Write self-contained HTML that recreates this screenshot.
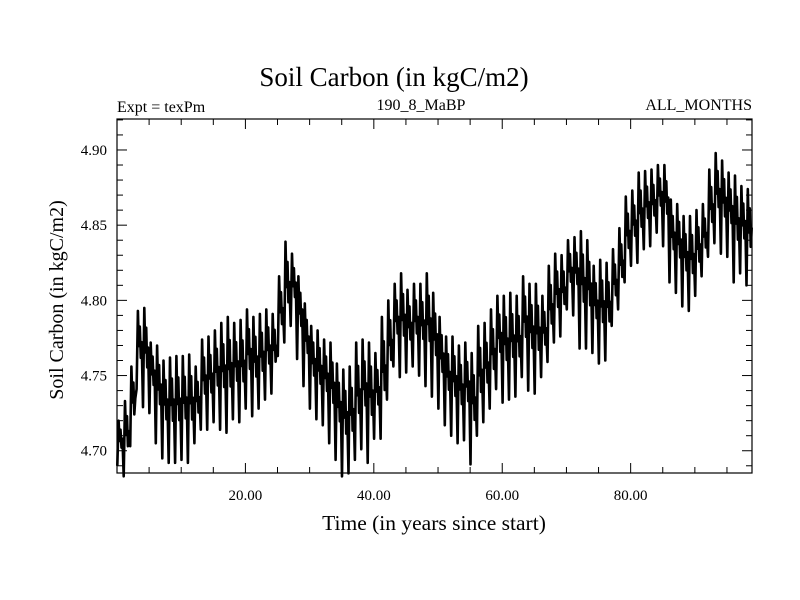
<!DOCTYPE html>
<html><head><meta charset="utf-8"><style>
body{margin:0;background:#fff}
svg{display:block;font-family:"Liberation Serif",serif}
</style></head><body>
<svg id="chart" width="800" height="600" viewBox="0 0 800 600">
<rect width="800" height="600" fill="#fff"/>
<text x="394" y="86" font-size="27" text-anchor="middle">Soil Carbon (in kgC/m2)</text>
<text x="117" y="112" font-size="16">Expt = texPm</text>
<text x="421" y="110" font-size="16" text-anchor="middle">190_8_MaBP</text>
<text x="752" y="110" font-size="16" text-anchor="end">ALL_MONTHS</text>
<text x="0" y="0" font-size="20" text-anchor="middle" transform="translate(63,300) rotate(-90)">Soil Carbon (in kgC/m2)</text>
<text x="434" y="530" font-size="21.5" text-anchor="middle">Time (in years since start)</text>
<g id="axes"></g>
<g id="series"></g>
<rect x="117" y="119" width="635" height="354" fill="none" stroke="#000" stroke-width="1.2"/>
</svg>
<script>
const xTicks=[20,40,60,80];
const xTickLabels=["20.00","40.00","60.00","80.00"];
const yTicks=[4.70,4.75,4.80,4.85,4.90];
const yTickLabels=["4.70","4.75","4.80","4.85","4.90"];
const yearHigh=[4.720,4.733,4.756,4.793,4.795,4.772,4.770,4.760,4.762,4.763,4.763,4.764,4.756,4.774,4.776,4.780,4.785,4.789,4.785,4.787,4.794,4.789,4.791,4.794,4.791,4.816,4.839,4.831,4.816,4.798,4.783,4.780,4.774,4.772,4.758,4.754,4.756,4.772,4.774,4.772,4.765,4.789,4.800,4.811,4.818,4.807,4.811,4.811,4.818,4.805,4.789,4.776,4.776,4.770,4.772,4.765,4.783,4.785,4.794,4.803,4.803,4.805,4.803,4.816,4.811,4.811,4.803,4.823,4.831,4.830,4.840,4.842,4.846,4.840,4.823,4.827,4.825,4.834,4.848,4.869,4.873,4.885,4.886,4.887,4.890,4.890,4.867,4.864,4.856,4.856,4.860,4.864,4.887,4.898,4.893,4.885,4.883,4.876,4.874];
const yearLow=[4.690,4.683,4.703,4.741,4.729,4.725,4.705,4.695,4.692,4.692,4.694,4.692,4.705,4.714,4.714,4.719,4.714,4.712,4.721,4.719,4.728,4.723,4.728,4.734,4.738,4.763,4.772,4.783,4.761,4.743,4.728,4.721,4.717,4.705,4.694,4.683,4.685,4.694,4.701,4.692,4.708,4.708,4.734,4.756,4.749,4.752,4.756,4.750,4.743,4.736,4.728,4.717,4.710,4.705,4.707,4.691,4.710,4.719,4.728,4.741,4.732,4.734,4.736,4.749,4.740,4.738,4.749,4.759,4.772,4.776,4.794,4.790,4.768,4.768,4.765,4.758,4.760,4.783,4.794,4.812,4.823,4.825,4.834,4.836,4.845,4.836,4.812,4.805,4.796,4.793,4.803,4.816,4.829,4.838,4.831,4.829,4.812,4.818,4.810];
const X0=117,X1=752,XMIN=0,XMAX=98.9,Y0=473,Y1=119,YMIN=4.6852,YMAX=4.9206;
function xs(v){return X0+(v-XMIN)/(XMAX-XMIN)*(X1-X0);}
function ys(v){return Y0-(v-YMIN)/(YMAX-YMIN)*(Y0-Y1);}
const NS="http://www.w3.org/2000/svg";
const axes=document.getElementById('axes');
function line(x1,y1,x2,y2,w){const l=document.createElementNS(NS,'line');l.setAttribute('x1',x1);l.setAttribute('y1',y1);l.setAttribute('x2',x2);l.setAttribute('y2',y2);l.setAttribute('stroke','#000');l.setAttribute('stroke-width',w||1);axes.appendChild(l);return l;}
for(let v=5;v<XMAX;v+=5){const x=xs(v);const major=v%20===0;const L=major?10:6;
const a=line(x,Y0,x,Y0-L);
const b=line(x,Y1,x,Y1+L);}
for(let k=0;k<=23;k++){const v=4.69+k*0.01;if(v>YMAX)break;const y=ys(v);const major=Math.round(v*100)%5===0;const L=major?10:6;
const a=line(X0,y,X0+L,y);
const b=line(X1,y,X1-L,y);}
xTicks.forEach((v,i)=>{const t=document.createElementNS(NS,'text');t.setAttribute('x',xs(v));t.setAttribute('y',500);t.setAttribute('font-size','15');t.setAttribute('text-anchor','middle');t.textContent=xTickLabels[i];


axes.appendChild(t);});
yTicks.forEach((v,i)=>{const t=document.createElementNS(NS,'text');t.setAttribute('x',107);t.setAttribute('y',ys(v)+5);t.setAttribute('font-size','15');t.setAttribute('text-anchor','end');t.textContent=yTickLabels[i];


axes.appendChild(t);});
let pts=[];
yearHigh.forEach((h,i)=>{const lo=yearLow[i];const mid=(h+lo)/2;const r=h-lo;
pts.push([i+0.05,lo]);pts.push([i+0.25,h]);pts.push([i+0.4,mid+r*0.05]);pts.push([i+0.55,mid+r*0.3]);pts.push([i+0.7,mid-r*0.1]);pts.push([i+0.85,mid+r*0.1]);});
const p=document.createElementNS(NS,'polyline');
p.setAttribute('points',pts.map(q=>xs(q[0]).toFixed(1)+','+ys(q[1]).toFixed(1)).join(' '));
p.setAttribute('fill','none');p.setAttribute('stroke','#000');p.setAttribute('stroke-width','2.6');p.setAttribute('stroke-linejoin','round');


document.getElementById('series').appendChild(p);
</script>
</body></html>
